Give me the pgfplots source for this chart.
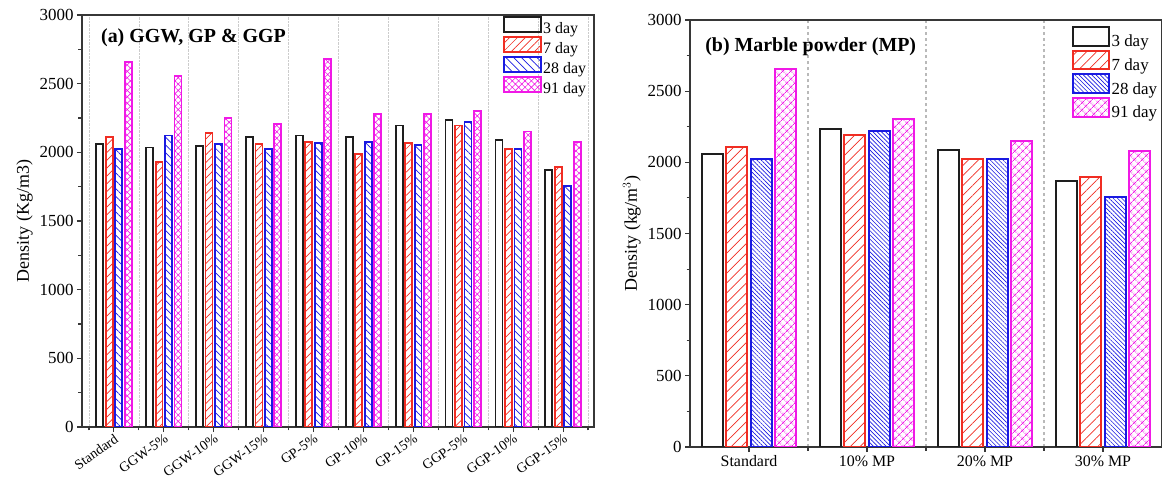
\documentclass[border=0pt]{standalone}
\usepackage{fontspec}
\setmainfont{Liberation Serif}
\usepackage{pgfplots}
\usepackage{pgfplotstable}
\pgfplotsset{compat=1.18}
\usetikzlibrary{patterns.meta}

\definecolor{cblk}{RGB}{30,30,30}
\definecolor{cred}{RGB}{240,45,35}
\definecolor{cblue}{RGB}{25,25,225}
\definecolor{cmag}{RGB}{240,25,230}
\definecolor{axc}{RGB}{55,55,55}

\pgfplotstableread{
x d3 d7 d28 d91
0 2059 2110 2022 2658
1 2035 1930 2122 2556
2 2047 2139 2061 2250
3 2110 2059 2025 2205
4 2122 2073 2066 2680
5 2110 1988 2078 2282
6 2195 2066 2054 2277
7 2236 2195 2219 2301
8 2090 2025 2025 2151
9 1870 1894 1755 2078
}\lefttab

\pgfplotstableread{
x d3 d7 d28 d91
0 2059 2110 2022 2658
1 2236 2195 2219 2301
2 2090 2025 2025 2151
3 1870 1894 1755 2078
}\righttab

\pgfplotsset{
  common/.style={
    scale only axis, anchor=south west,
    ymin=0, ymax=3000,
    ytick={0,500,...,3000}, minor ytick={250,750,...,2750},
    tick align=outside, xtick pos=bottom, ytick pos=left,
    major tick length=5bp, minor tick length=3.5bp,
    every tick/.style={axc, line width=1.1bp},
    axis line style={axc, line width=1.4bp},
    /pgf/number format/1000 sep={},
    /pgf/number format/assume math mode=true,
    y tick label style={font=\fontsize{17}{17}\selectfont},
    ylabel style={font=\fontsize{18}{18}\selectfont},
    ybar,
    legend cell align=left,
  }
}

\begin{document}
\begin{tikzpicture}
\useasboundingbox (0,0) rectangle (1162bp,485bp);

% ---------- left panel ----------
\begin{axis}[common,
  at={(82bp,58bp)}, width=512bp, height=412bp,
  xmin=-0.64, xmax=9.62,
  bar width=0.14,
  xtick={0,...,9},
  xticklabels={Standard,GGW-5\%,GGW-10\%,GGW-15\%,GP-5\%,GP-10\%,GP-15\%,GGP-5\%,GGP-10\%,GGP-15\%},
  minor xtick={-0.5,0.5,...,9.5},
  xminorgrids=true,
  minor x grid style={densely dotted, gray!40, line width=0.6bp},
  x tick label style={rotate=35, anchor=north east, font=\fontsize{14}{14}\selectfont, inner sep=1bp},
  ylabel={Density (Kg/m3)},
  legend image code/.code={\draw[#1] (0bp,-3bp) rectangle (37bp,11.5bp);},
  legend style={at={(rel axis cs:0.822,0.997)}, anchor=north west, draw=none, fill=none,
    inner sep=0pt, row sep=0bp, font=\fontsize{16}{16}\selectfont,
    nodes={inner sep=1.3bp}},
]
\addplot[bar shift=-0.285, draw=cblk, line width=1.8bp] table[x=x,y=d3]{\lefttab};
\addplot[bar shift=-0.095, draw=cred, line width=1.8bp,
  pattern={Lines[angle=45,distance=5.5bp,line width=0.7bp]}, pattern color=cred] table[x=x,y=d7]{\lefttab};
\addplot[bar shift=0.095, draw=cblue, line width=1.8bp,
  pattern={Lines[angle=-45,distance=5.5bp,line width=0.7bp]}, pattern color=cblue] table[x=x,y=d28]{\lefttab};
\addplot[bar shift=0.285, draw=cmag, line width=1.8bp,
  pattern={Hatch[angle=45,distance=4.5bp,line width=0.6bp]}, pattern color=cmag] table[x=x,y=d91]{\lefttab};
\legend{3 day,7 day,28 day,91 day}
\node[anchor=west, font=\bfseries\fontsize{20}{20}\selectfont, inner sep=0pt] at (rel axis cs:0.037,0.944) {(a) GGW, GP \& GGP};
\end{axis}

% ---------- right panel ----------
\begin{axis}[common,
  at={(690bp,38bp)}, width=472bp, height=427bp,
  xmin=-0.5, xmax=3.5,
  bar width=0.177,
  xtick={0,...,3},
  xticklabels={Standard,10\% MP,20\% MP,30\% MP},
  minor xtick={0.5,1.5,2.5},
  xminorgrids=true,
  minor x grid style={dashed, gray!55, line width=1.1bp},
  x tick label style={font=\fontsize{16}{16}\selectfont},
  ylabel={Density (kg/m$^{3}$)},
  legend image code/.code={\draw[#1] (0bp,-4bp) rectangle (36bp,14.5bp);},
  legend style={at={(rel axis cs:0.809,0.986)}, anchor=north west, draw=none, fill=none,
    inner sep=0pt, row sep=0bp, font=\fontsize{17}{17}\selectfont,
    nodes={inner sep=1.5bp}},
]
\addplot[bar shift=-0.3075, draw=cblk, line width=2bp] table[x=x,y=d3]{\righttab};
\addplot[bar shift=-0.1025, draw=cred, line width=2bp,
  pattern={Lines[angle=45,distance=7bp,line width=0.7bp]}, pattern color=cred] table[x=x,y=d7]{\righttab};
\addplot[bar shift=0.1025, draw=cblue, line width=2bp,
  pattern={Lines[angle=-45,distance=3bp,line width=0.6bp]}, pattern color=cblue] table[x=x,y=d28]{\righttab};
\addplot[bar shift=0.3075, draw=cmag, line width=2bp,
  pattern={Hatch[angle=45,distance=6bp,line width=0.7bp]}, pattern color=cmag] table[x=x,y=d91]{\righttab};
\legend{3 day,7 day,28 day,91 day}
\node[anchor=west, font=\bfseries\fontsize{20}{20}\selectfont, inner sep=0pt] at (rel axis cs:0.032,0.937) {(b) Marble powder (MP)};
\end{axis}
\end{tikzpicture}
\end{document}
